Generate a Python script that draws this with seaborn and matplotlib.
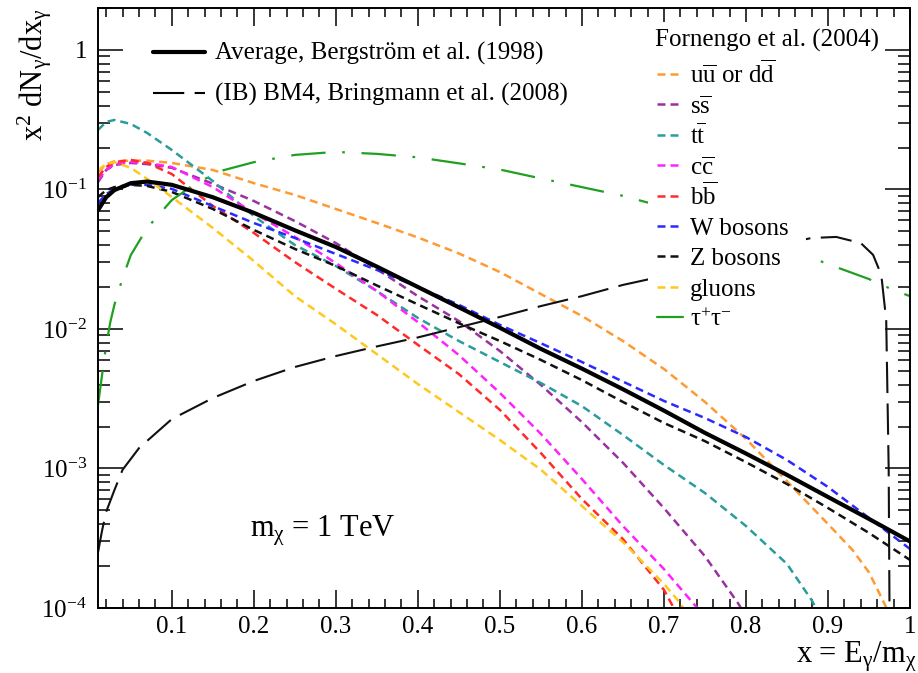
import math
import matplotlib
matplotlib.use("Agg")
import matplotlib.pyplot as plt
import seaborn as sns
from matplotlib.lines import Line2D
from matplotlib.patches import Rectangle
from matplotlib.ticker import FixedLocator, FuncFormatter, MultipleLocator, NullFormatter

# ---------------------------------------------------------------- data
# Gamma-ray spectra x^2 dN/dx for a 1 TeV neutralino

# Fornengo et al. (2004), one curve per annihilation channel
x_uu = [0.01, 0.02, 0.03, 0.05, 0.07, 0.10, 0.15, 0.20, 0.25, 0.30, 0.35, 0.40, 0.45,
        0.50, 0.55, 0.60, 0.65, 0.70, 0.75, 0.80, 0.85, 0.90, 0.93, 0.95, 0.97, 0.98]
y_uu = [0.133, 0.152, 0.159, 0.161, 0.161, 0.155, 0.138, 0.111, 0.0914, 0.0725, 0.0575,
        0.0453, 0.0348, 0.0256, 0.0178, 0.0124, 0.0082, 0.00517, 0.0030, 0.00163,
        0.00081, 0.00040, 0.00026, 0.00018, 0.000104, 0.00007]

x_ss = [0.01, 0.02, 0.03, 0.05, 0.07, 0.10, 0.15, 0.20, 0.25, 0.30, 0.35, 0.40, 0.45,
        0.50, 0.55, 0.60, 0.65, 0.70, 0.75, 0.79, 0.81]
y_ss = [0.113, 0.138, 0.150, 0.155, 0.152, 0.143, 0.110, 0.0827, 0.0594, 0.0413, 0.0269,
        0.0172, 0.0114, 0.00695, 0.00397, 0.00215, 0.00110, 0.00052, 0.000235, 0.000109,
        0.00007]

x_tt = [0.01, 0.02, 0.03, 0.05, 0.07, 0.10, 0.15, 0.20, 0.25, 0.30, 0.35, 0.40, 0.45,
        0.50, 0.55, 0.60, 0.65, 0.70, 0.75, 0.80, 0.85, 0.88, 0.90]
y_tt = [0.267, 0.305, 0.315, 0.295, 0.254, 0.192, 0.115, 0.0645, 0.0400, 0.0283, 0.0187,
        0.0120, 0.0082, 0.0058, 0.0041, 0.0028, 0.00174, 0.00106, 0.000667, 0.000387,
        0.000207, 0.000114, 0.00007]

x_cc = [0.01, 0.02, 0.03, 0.05, 0.07, 0.10, 0.15, 0.20, 0.25, 0.30, 0.35, 0.40, 0.45,
        0.50, 0.55, 0.60, 0.65, 0.70, 0.74, 0.76]
y_cc = [0.117, 0.138, 0.152, 0.157, 0.155, 0.145, 0.104, 0.0678, 0.0457, 0.0297, 0.0187,
        0.0112, 0.0065, 0.00348, 0.00177, 0.00084, 0.000387, 0.00019, 0.000101, 0.00007]

x_bb = [0.01, 0.02, 0.03, 0.05, 0.07, 0.10, 0.15, 0.20, 0.25, 0.30, 0.35, 0.40, 0.45,
        0.50, 0.55, 0.60, 0.65, 0.70, 0.71, 0.73]
y_bb = [0.123, 0.145, 0.157, 0.163, 0.155, 0.129, 0.0762, 0.0488, 0.0302, 0.0194, 0.0126,
        0.0077, 0.00475, 0.00263, 0.00129, 0.000604, 0.000312, 0.000135, 0.000105, 0.00006]

x_ww = [0.01, 0.02, 0.03, 0.05, 0.07, 0.10, 0.15, 0.20, 0.25, 0.30, 0.35, 0.40, 0.45,
        0.50, 0.55, 0.60, 0.65, 0.70, 0.75, 0.80, 0.85, 0.90, 0.95, 1.00]
y_ww = [0.080, 0.0929, 0.100, 0.108, 0.108, 0.101, 0.076, 0.0575, 0.0449, 0.0345, 0.0265,
        0.0200, 0.0149, 0.0107, 0.0079, 0.0058, 0.0042, 0.00305, 0.0023, 0.00168,
        0.00115, 0.000737, 0.000442, 0.000265]

x_zz = [0.01, 0.02, 0.03, 0.05, 0.07, 0.10, 0.15, 0.20, 0.25, 0.30, 0.35, 0.40, 0.45,
        0.50, 0.55, 0.60, 0.65, 0.70, 0.75, 0.80, 0.85, 0.90, 0.95, 1.00]
y_zz = [0.0883, 0.099, 0.104, 0.108, 0.106, 0.096, 0.0725, 0.0513, 0.0375, 0.0283, 0.0205,
        0.0150, 0.0110, 0.0082, 0.0060, 0.0043, 0.0030, 0.00212, 0.00157, 0.00111,
        0.000774, 0.000521, 0.000345, 0.000221]

x_gg = [0.01, 0.02, 0.03, 0.05, 0.07, 0.10, 0.15, 0.20, 0.25, 0.30, 0.35, 0.40, 0.45,
        0.50, 0.55, 0.60, 0.65, 0.70, 0.72, 0.74]
y_gg = [0.138, 0.152, 0.157, 0.143, 0.119, 0.0883, 0.053, 0.0307, 0.0172, 0.0108, 0.0066,
        0.00403, 0.00254, 0.0016, 0.00098, 0.000538, 0.000297, 0.000149, 0.000108, 0.00007]

x_tau = [0.01, 0.015, 0.02, 0.025, 0.03, 0.04, 0.05, 0.07, 0.10, 0.13, 0.16, 0.20, 0.25,
         0.30, 0.35, 0.40, 0.45, 0.50, 0.55, 0.60, 0.65, 0.70, 0.75, 0.80, 0.85, 0.90,
         0.95, 0.98, 1.00]
y_tau = [0.00285, 0.0047, 0.0077, 0.0112, 0.0149, 0.0232, 0.0339, 0.053, 0.084, 0.111,
         0.136, 0.157, 0.177, 0.186, 0.180, 0.170, 0.154, 0.139, 0.120, 0.104, 0.090,
         0.075, 0.060, 0.0477, 0.038, 0.0292, 0.0228, 0.019, 0.0172]

# Average spectrum, Bergstrom et al. (1998)
x_avg = [0.01, 0.02, 0.03, 0.05, 0.07, 0.10, 0.15, 0.20, 0.25, 0.30, 0.35, 0.40, 0.45,
         0.50, 0.55, 0.60, 0.65, 0.70, 0.75, 0.80, 0.85, 0.90, 0.95, 1.00]
y_avg = [0.071, 0.088, 0.099, 0.111, 0.114, 0.108, 0.088, 0.068, 0.051, 0.0387, 0.028,
         0.020, 0.0143, 0.0102, 0.0072, 0.0052, 0.0037, 0.0026, 0.0018, 0.00128, 0.0009,
         0.000625, 0.000435, 0.0003]

# Internal bremsstrahlung, benchmark BM4, Bringmann et al. (2008)
x_ib = [0.01, 0.015, 0.02, 0.03, 0.04, 0.06, 0.08, 0.10, 0.15, 0.20, 0.25, 0.30, 0.35,
        0.40, 0.45, 0.50, 0.55, 0.60, 0.65, 0.70, 0.75, 0.80, 0.85, 0.88, 0.91, 0.94,
        0.955, 0.965, 0.971, 0.974, 0.976]
y_ib = [0.00025, 0.00036, 0.00049, 0.0007, 0.00098, 0.0014, 0.00178, 0.00226, 0.0032,
        0.00424, 0.00534, 0.0064, 0.0075, 0.0087, 0.0103, 0.0122, 0.0146, 0.0172, 0.0207,
        0.024, 0.0288, 0.0345, 0.0413, 0.0449, 0.0457, 0.0413, 0.034, 0.0244, 0.0116,
        0.001, 0.00001]

channel_labels = [r"u$\overline{\mathrm{u}}$ or d$\overline{\mathrm{d}}$",
                  r"s$\overline{\mathrm{s}}$", r"t$\overline{\mathrm{t}}$",
                  r"c$\overline{\mathrm{c}}$", r"b$\overline{\mathrm{b}}$",
                  "W bosons", "Z bosons", "gluons", r"τ$^{+}$τ$^{-}$"]
x_ticks = [0.1, 0.2, 0.3, 0.4, 0.5, 0.6, 0.7, 0.8, 0.9, 1.0]
y_ticks = [1e-4, 1e-3, 1e-2, 1e-1, 1.0]

# ---------------------------------------------------------------- style
sns.set_theme(style="ticks")
plt.rcParams.update({
    "font.family": ["Liberation Serif", "DejaVu Serif"],
    "mathtext.fontset": "custom",
    "mathtext.rm": "Liberation Serif",
    "mathtext.it": "Liberation Serif:italic",
    "mathtext.bf": "Liberation Serif:bold",
    "text.color": "black",
    "axes.labelcolor": "black",
    "axes.edgecolor": "black",
    "xtick.color": "black",
    "ytick.color": "black",
})

W, H = 918, 673
fig = plt.figure(figsize=(W / 100, H / 100), dpi=100)
ax = fig.add_axes([98 / W, 1 - 608 / H, (910 - 98) / W, 600 / H])

DASH = (0, (3.2, 2.0))
IB_DASH = (0, (15, 5))
DASHDOT = (0, (15.5, 7.5, 1.2, 7.5))

channels = [
    (x_uu, y_uu, "#FF9A33", DASH),
    (x_ss, y_ss, "#9932A0", DASH),
    (x_tt, y_tt, "#2A9C9C", DASH),
    (x_cc, y_cc, "#FF22FF", DASH),
    (x_bb, y_bb, "#FF2A2A", DASH),
    (x_ww, y_ww, "#2A2AFF", DASH),
    (x_zz, y_zz, "#111111", DASH),
    (x_gg, y_gg, "#FFC81E", DASH),
]
for xs, ys, col, ls in channels:
    sns.lineplot(x=xs, y=ys, ax=ax, color=col, linewidth=1.8, linestyle=ls,
                 sort=False, estimator=None, errorbar=None)

sns.lineplot(x=x_tau, y=y_tau, ax=ax, color="#20A020", linewidth=1.6, linestyle=DASHDOT,
             sort=False, estimator=None, errorbar=None)
sns.lineplot(x=x_ib, y=y_ib, ax=ax, color="#111111", linewidth=1.5, linestyle=IB_DASH,
             sort=False, estimator=None, errorbar=None)
sns.lineplot(x=x_avg, y=y_avg, ax=ax, color="black", linewidth=3.0, linestyle="-",
             sort=False, estimator=None, errorbar=None)

# ---------------------------------------------------------------- axes
ax.set_yscale("log")
ax.set_xlim(0.01, 1.0)
ax.set_ylim(1e-4, 2.0)

ax.xaxis.set_major_locator(FixedLocator(x_ticks))
ax.xaxis.set_minor_locator(MultipleLocator(0.02))
ax.xaxis.set_major_formatter(FuncFormatter(lambda v, p: "1" if abs(v - 1) < 1e-9 else f"{v:.1f}"))

minor_y = [m * 10.0 ** e for e in range(-4, 1) for m in range(2, 10)]
ax.yaxis.set_major_locator(FixedLocator(y_ticks))
ax.yaxis.set_minor_locator(FixedLocator(minor_y))
ax.yaxis.set_major_formatter(FuncFormatter(
    lambda v, p: "1" if abs(v - 1) < 1e-9 else r"10$^{\mathrm{%d}}$" % round(math.log10(v))))
ax.yaxis.set_minor_formatter(NullFormatter())

for s in ax.spines.values():
    s.set_linewidth(1.4)
    s.set_visible(True)
ax.tick_params(which="both", direction="in", top=True, right=True, width=1.1, labelsize=18)
ax.tick_params(axis="x", which="major", length=13, pad=6)
ax.tick_params(axis="x", which="minor", length=6.5)
ax.tick_params(axis="y", which="major", length=18, pad=8)
ax.tick_params(axis="y", which="minor", length=8.6)

ax.set_xlabel(r"x = E$_{\mathrm{\gamma}}$/m$_{\mathrm{\chi}}$", fontsize=22, ha="right", va="baseline")
ax.xaxis.set_label_coords((917 - 98) / 812, (608 - 663) / 600)
ax.set_ylabel(r"x$^{2}$ dN$_{\mathrm{\gamma}}$/dx$_{\mathrm{\gamma}}$", fontsize=22)
ax.yaxis.label.set_rotation_mode("default")
ax.yaxis.label.set_horizontalalignment("center")
ax.yaxis.label.set_verticalalignment("top")
ax.yaxis.set_label_coords((35 - 98) / 812, (608 - 8) / 600)

ax.text((250 - 98) / 812, (608 - 537) / 600, r"m$_{\mathrm{\chi}}$ = 1 TeV", transform=ax.transAxes,
        fontsize=22, ha="left", va="baseline")


# ---------------------------------------------------------------- legends
def fx(px):
    return px / W


def fy(py):
    return 1 - py / H


# upper-left: average and IB
for i, (lw, ls, label) in enumerate([(3.0, "-", "Average, Bergström et al. (1998)"),
                                      (1.5, IB_DASH, "(IB) BM4, Bringmann et al. (2008)")]):
    base = 60 + 41 * i
    fig.add_artist(Line2D([fx(153), fx(205)], [fy(base - 8), fy(base - 8)], transform=fig.transFigure,
                          color="black", linewidth=lw, linestyle=ls, zorder=3))
    fig.text(fx(215), fy(base), label, fontsize=18, ha="left", va="baseline")

# upper-right: channel spectra on an opaque white panel
fig.add_artist(Rectangle((fx(648), fy(334)), fx(806) - fx(648), fy(22) - fy(334),
                         transform=fig.transFigure, facecolor="white", edgecolor="none", zorder=1))
fig.text(fx(655), fy(47), "Fornengo et al. (2004)", fontsize=18, ha="left", va="baseline", zorder=3)
legend_styles = [(c[2], DASH, 1.8) for c in channels] + [("#20A020", "-", 1.6)]
for i, ((col, ls, lw), label) in enumerate(zip(legend_styles, channel_labels)):
    base = 83 + 30.4 * i
    fig.add_artist(Line2D([fx(657), fx(683)], [fy(base - 9), fy(base - 9)], transform=fig.transFigure,
                          color=col, linewidth=lw, linestyle=ls, zorder=3))
    fig.text(fx(690), fy(base), label, fontsize=18, ha="left", va="baseline", zorder=3)

fig.savefig("out.png", dpi=100)
